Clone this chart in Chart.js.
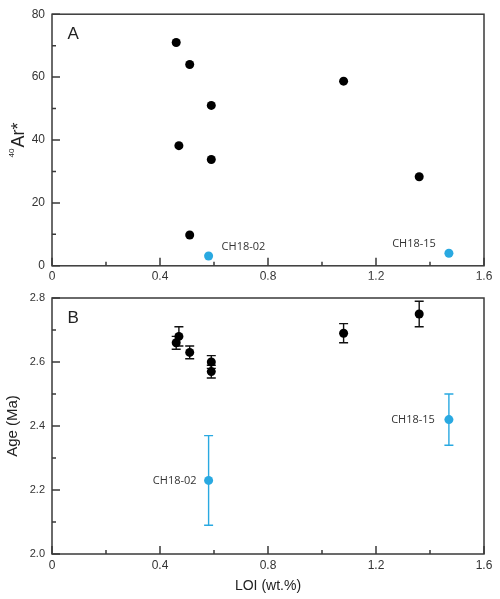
<!DOCTYPE html>
<html><head><meta charset="utf-8">
<script src="https://cdn.jsdelivr.net/npm/chart.js@4/dist/chart.umd.min.js"></script>
<style>
html,body{margin:0;padding:0;background:#fff;width:500px;height:599px;overflow:hidden}
canvas{position:absolute;left:0}
#c1{top:0}#c2{top:280px}
</style></head>
<body>
<canvas id="c1" width="500" height="280"></canvas>
<canvas id="c2" width="500" height="319"></canvas>
<script>
// ---- data ----
const xTicks = [0, 0.4, 0.8, 1.2, 1.6];
const arTicks = [0, 20, 40, 60, 80];
const ageTicks = [2.0, 2.2, 2.4, 2.6, 2.8];

// Panel A: 40Ar* vs LOI
const arLoi = [0.46, 0.51, 0.59, 0.47, 0.59, 0.51, 1.08, 1.36];
const arVals = [71, 64, 51, 38.2, 33.8, 9.8, 58.7, 28.3];
const arOutLoi = [0.58, 1.47];
const arOutVals = [3.1, 4.0];

// Panel B: Age vs LOI
const ageLoi = [0.46, 0.47, 0.51, 0.59, 0.59, 1.08, 1.36];
const ageVals = [2.66, 2.68, 2.63, 2.60, 2.57, 2.69, 2.75];
const ageErr = [0.02, 0.03, 0.02, 0.02, 0.02, 0.03, 0.04];
const ageOutLoi = [0.58, 1.47];
const ageOutVals = [2.23, 2.42];
const ageOutErr = [0.14, 0.08];

const outNames = ['CH18-02', 'CH18-15'];

// ---- styles ----
const BLACK = '#000000';
const BLUE = '#29a9e1';
const AXIS = '#3a3a3a';
const TXT = '#333333';
const SANS = '"Liberation Sans", Arial, sans-serif';

function pts(xs, ys) { return xs.map((x, i) => ({ x: x, y: ys[i] })); }
function mids(t) { const m = []; for (let i = 0; i < t.length - 1; i++) m.push((t[i] + t[i + 1]) / 2); return m; }

const framePlugin = {
  id: 'frame',
  beforeDatasetsDraw(chart) {
    const ctx = chart.ctx, xs = chart.scales.x, ys = chart.scales.y;
    chart.data.datasets.forEach(ds => {
      if (!ds.errors) return;
      ctx.save();
      ctx.strokeStyle = ds.errColor; ctx.lineWidth = 1.4;
      ds.data.forEach((p, i) => {
        const e = ds.errors[i];
        const px = xs.getPixelForValue(p.x);
        const y1 = ys.getPixelForValue(p.y + e), y2 = ys.getPixelForValue(p.y - e);
        ctx.beginPath();
        ctx.moveTo(px, y1); ctx.lineTo(px, y2);
        ctx.moveTo(px - 4.5, y1); ctx.lineTo(px + 4.5, y1);
        ctx.moveTo(px - 4.5, y2); ctx.lineTo(px + 4.5, y2);
        ctx.stroke();
      });
      ctx.restore();
    });
  },
  afterDatasetsDraw(chart, args, o) {
    const ctx = chart.ctx, a = chart.chartArea, xs = chart.scales.x, ys = chart.scales.y;
    ctx.save();
    ctx.strokeStyle = AXIS; ctx.lineWidth = 1.5;
    ctx.strokeRect(a.left, a.top, a.right - a.left, a.bottom - a.top);
    ctx.beginPath();
    o.xMajor.forEach(v => { const p = xs.getPixelForValue(v); ctx.moveTo(p, a.bottom); ctx.lineTo(p, a.bottom - 8); });
    mids(o.xMajor).forEach(v => { const p = xs.getPixelForValue(v); ctx.moveTo(p, a.bottom); ctx.lineTo(p, a.bottom - 4); });
    o.yMajor.forEach(v => { const p = ys.getPixelForValue(v); ctx.moveTo(a.left, p); ctx.lineTo(a.left + 8, p); });
    mids(o.yMajor).forEach(v => { const p = ys.getPixelForValue(v); ctx.moveTo(a.left, p); ctx.lineTo(a.left + 4, p); });
    ctx.stroke();
    // panel letter
    ctx.fillStyle = '#222';
    ctx.font = '17px ' + SANS;
    ctx.textAlign = 'left'; ctx.textBaseline = 'alphabetic';
    ctx.fillText(o.letter, a.left + 15.5, a.top + 24.5);
    // sample labels
    ctx.font = '11px "Open Sans", sans-serif';
    ctx.fillStyle = TXT;
    ctx.textBaseline = 'middle';
    const ds = chart.data.datasets[1];
    ds.data.forEach((p, i) => {
      const px = xs.getPixelForValue(p.x), py = ys.getPixelForValue(p.y);
      const lp = o.labelPos[i];
      ctx.textAlign = lp.align;
      ctx.fillText(outNames[i], px + lp.dx, py + lp.dy);
    });
    // custom y title (superscript)
    if (o.arTitle) {
      const cy = (a.top + a.bottom) / 2;
      ctx.translate(24, cy);
      ctx.rotate(-Math.PI / 2);
      ctx.fillStyle = '#222';
      ctx.textBaseline = 'alphabetic';
      ctx.textAlign = 'left';
      ctx.font = '8px ' + SANS;
      const w1 = ctx.measureText('40').width;
      ctx.font = '18px ' + SANS;
      const w2 = ctx.measureText('Ar*').width;
      const x0 = -(w1 + w2 + 1) / 2;
      ctx.font = '8px ' + SANS;
      ctx.fillText('40', x0, -10);
      ctx.font = '18px ' + SANS;
      ctx.fillText('Ar*', x0 + w1 + 1, 0);
    }
    ctx.restore();
  }
};

function makeChart(id, cfg) {
  return new Chart(document.getElementById(id), {
    type: 'scatter',
    data: {
      datasets: [
        { data: pts(cfg.xs, cfg.ys), backgroundColor: BLACK, pointRadius: 4.5, pointBorderWidth: 0,
          errors: cfg.err, errColor: '#111' },
        { data: pts(cfg.oxs, cfg.oys), backgroundColor: BLUE, pointRadius: 4.5, pointBorderWidth: 0,
          errors: cfg.oerr, errColor: BLUE }
      ]
    },
    options: {
      responsive: false, animation: false, devicePixelRatio: 1,
      layout: { padding: { left: 0, right: 16, top: cfg.padTop, bottom: 0 } },
      plugins: {
        legend: { display: false }, tooltip: { enabled: false },
        frame: { xMajor: xTicks, yMajor: cfg.yTicks, letter: cfg.letter, labelPos: cfg.labelPos, arTitle: cfg.arTitle }
      },
      scales: {
        x: {
          type: 'linear', min: xTicks[0], max: xTicks[xTicks.length - 1],
          afterBuildTicks: s => { s.ticks = xTicks.map(v => ({ value: v })); },
          afterFit: s => { s.height = cfg.xH; },
          grid: { display: false, drawTicks: false }, border: { display: false },
          ticks: { padding: 4, color: TXT, font: { family: SANS, size: 12 },
            callback: v => v === 0 ? '0' : v.toFixed(1) },
          title: { display: !!cfg.xTitle, text: cfg.xTitle || '', color: '#222', font: { family: SANS, size: 14 }, padding: { top: 4, bottom: 4 } }
        },
        y: {
          type: 'linear', min: cfg.yTicks[0], max: cfg.yTicks[cfg.yTicks.length - 1],
          afterBuildTicks: s => { s.ticks = cfg.yTicks.map(v => ({ value: v })); },
          afterFit: s => { s.width = 52; },
          grid: { display: false, drawTicks: false }, border: { display: false },
          ticks: { padding: 7, color: TXT, font: { family: SANS, size: cfg.yFont }, callback: cfg.yFmt },
          title: { display: !!cfg.yTitle, text: cfg.yTitle || '', color: '#222', font: { family: SANS, size: 15 }, padding: { top: 4, bottom: 4 } }
        }
      }
    },
    plugins: [framePlugin]
  });
}

makeChart('c1', {
  xs: arLoi, ys: arVals, oxs: arOutLoi, oys: arOutVals,
  yTicks: arTicks, yFont: 12, yFmt: v => String(v),
  padTop: 9, xH: 14, letter: 'A', arTitle: true,
  labelPos: [{ dx: 13, dy: -9, align: 'left' }, { dx: -13, dy: -9, align: 'right' }]
});

makeChart('c2', {
  xs: ageLoi, ys: ageVals, err: ageErr, oxs: ageOutLoi, oys: ageOutVals, oerr: ageOutErr,
  yTicks: ageTicks, yFont: 11, yFmt: v => v.toFixed(1),
  padTop: 18, xH: 45, letter: 'B', xTitle: 'LOI (wt.%)', yTitle: 'Age (Ma)',
  labelPos: [{ dx: -12, dy: 0, align: 'right' }, { dx: -14, dy: 0, align: 'right' }]
});
</script>
</body></html>
